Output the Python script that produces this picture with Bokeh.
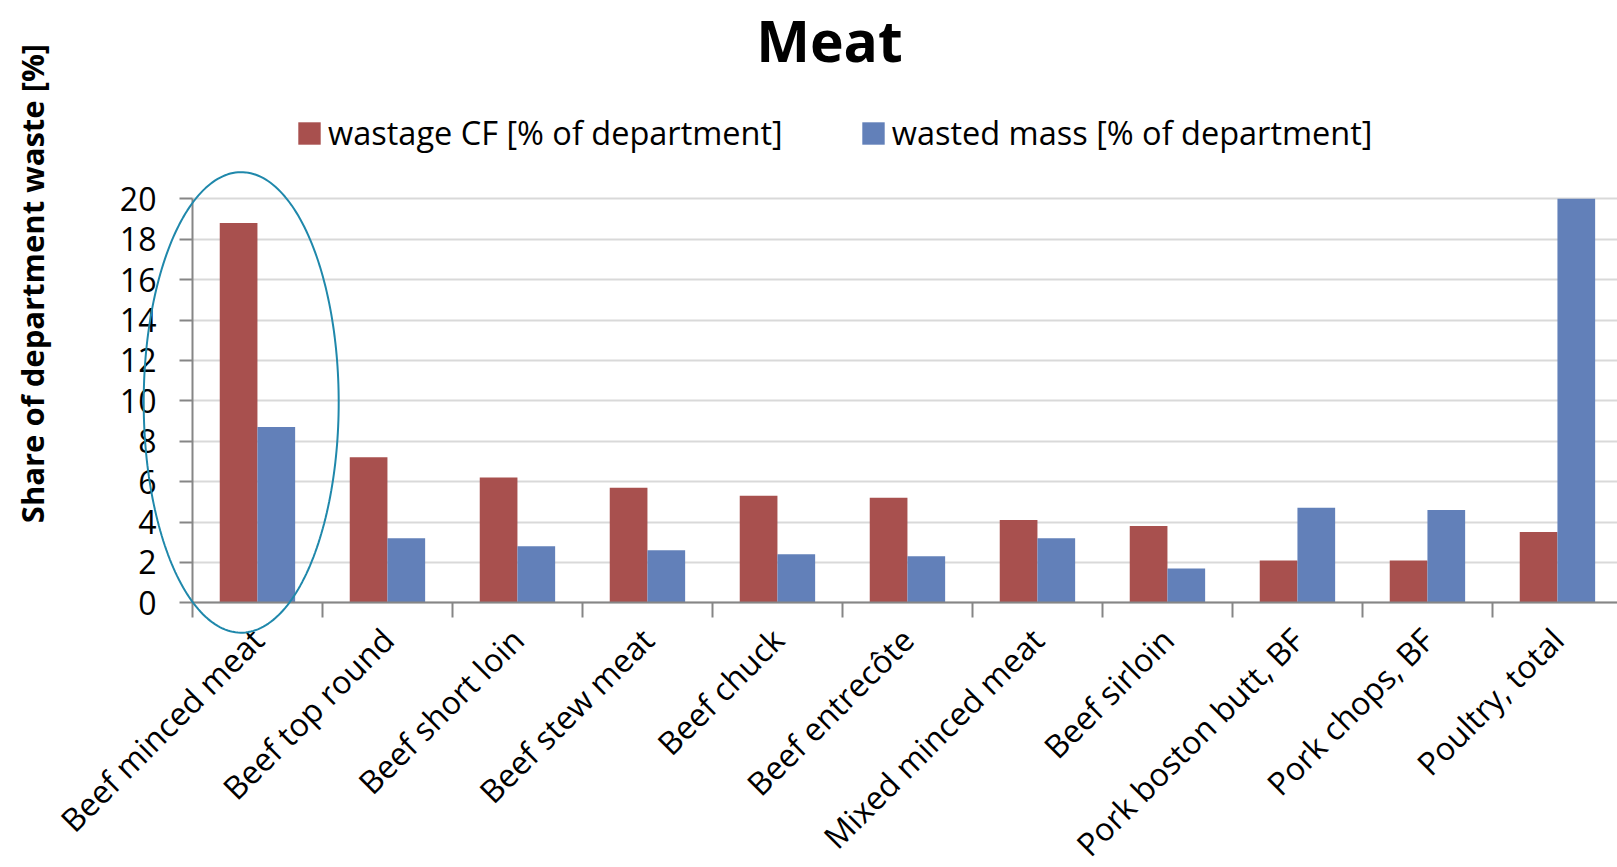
import numpy as np
from bokeh.plotting import figure
from bokeh.models import (Range1d, FixedTicker, ColumnDataSource, Legend, LegendItem,
                          PolyAnnotation, Label)
from bokeh.transform import dodge
from bokeh.embed import file_html
from bokeh.resources import INLINE

# Meat department: share of waste per product
categories = ["Beef minced meat", "Beef top round", "Beef short loin", "Beef stew meat",
              "Beef chuck", "Beef entrecôte", "Mixed minced meat", "Beef sirloin",
              "Pork boston butt, BF", "Pork chops, BF", "Poultry, total"]
wastage_cf = [18.8, 7.2, 6.2, 5.7, 5.3, 5.2, 4.1, 3.8, 2.1, 2.1, 3.5]
wasted_mass = [8.7, 3.2, 2.8, 2.6, 2.4, 2.3, 3.2, 1.7, 4.7, 4.6, 20.0]
y_ticks = [0, 2, 4, 6, 8, 10, 12, 14, 16, 18, 20]

W, H = 1617, 867
FONT = "Open Sans"
RED = "#A8504E"
BLUE = "#6280B9"
AXIS = "#868686"
GRID = "#D9D9D9"
TEXT = "#000000"
RING = "#1F88AB"

centers = [i + 0.5 for i in range(len(categories))]
boundaries = list(range(len(categories)))

source = ColumnDataSource(dict(pos=centers, cf=wastage_cf, mass=wasted_mass, name=categories))

# The plotting frame fills the whole canvas (130 px per category, 20.2 px per percent);
# both axes are pinned at zero so titles, legend and the highlight ring share one frame.
p = figure(width=W, height=H, output_backend="svg", toolbar_location=None,
           x_range=Range1d(-1.4765, 10.962), y_range=Range1d(-13.104, 29.817),
           min_border_left=0, min_border_right=0, min_border_top=0, min_border_bottom=0)
p.outline_line_color = None
p.background_fill_color = "white"
p.border_fill_color = "white"

r_cf = p.vbar(x=dodge("pos", -0.145, range=p.x_range), top="cf", width=0.29,
              source=source, fill_color=RED, line_color=None)
r_mass = p.vbar(x=dodge("pos", 0.145, range=p.x_range), top="mass", width=0.29,
                source=source, fill_color=BLUE, line_color=None)

# x axis: labels at category centres, tick marks between categories
xa = p.xaxis[0]
xa.fixed_location = 0
xa.bounds = (0, len(categories))
xa.ticker = FixedTicker(ticks=centers, minor_ticks=boundaries)
xa.major_label_overrides = {c: n for c, n in zip(centers, categories)}
xa.major_label_orientation = np.pi / 4
xa.major_tick_line_color = None
xa.major_tick_out = 0
xa.major_tick_in = 0
xa.minor_tick_line_color = AXIS
xa.minor_tick_line_width = 2
xa.minor_tick_out = 15
xa.minor_tick_in = 0
xa.axis_line_color = AXIS
xa.axis_line_width = 2
xa.major_label_text_font = FONT
xa.major_label_text_font_size = "32px"
xa.major_label_text_color = TEXT
xa.major_label_standoff = 16
p.xgrid.visible = False

ya = p.yaxis[0]
ya.fixed_location = 0
ya.bounds = (0, 20)
ya.ticker = FixedTicker(ticks=y_ticks)
ya.major_tick_out = 13
ya.major_tick_in = 0
ya.major_tick_line_color = AXIS
ya.major_tick_line_width = 2
ya.minor_tick_line_color = None
ya.axis_line_color = AXIS
ya.axis_line_width = 2
ya.major_label_text_font = FONT
ya.major_label_text_font_size = "32px"
ya.major_label_text_color = TEXT
ya.major_label_standoff = 23
p.ygrid.grid_line_color = GRID
p.ygrid.grid_line_width = 2
p.ygrid.cross_bounds = (0, len(categories))

# highlight ring around the first product
t = np.linspace(0, 2 * np.pi, 240)
p.add_layout(PolyAnnotation(xs=list(0.375 + 0.75 * np.cos(t)), ys=list(9.92 + 11.4 * np.sin(t)),
                            fill_color=None, line_color=RING, line_alpha=1.0, line_width=2))

# chart title and vertical axis title (screen px from the bottom-left corner)
p.add_layout(Label(x=829, y=H - 39, x_units="screen", y_units="screen", text="Meat",
                   text_align="center", text_baseline="alphabetic", text_font=FONT,
                   text_font_style="bold", text_font_size="57px", text_color=TEXT))
p.add_layout(Label(x=31, y=H - 283, x_units="screen", y_units="screen",
                   text="Share of department waste [%]", angle=np.pi / 2,
                   text_align="center", text_baseline="middle", text_font=FONT,
                   text_font_style="bold", text_font_size="31px", text_color=TEXT))

legend = Legend(items=[LegendItem(label="wastage CF [% of department]", renderers=[r_cf]),
                       LegendItem(label="wasted mass [% of department]", renderers=[r_mass])],
                orientation="horizontal", location=(295, H - 155), glyph_width=28,
                glyph_height=28, label_standoff=5, spacing=76, padding=0, margin=0,
                border_line_color=None, background_fill_alpha=0, label_text_font=FONT,
                label_text_font_size="32.5px", label_text_color=TEXT, label_height=22)
p.add_layout(legend, "center")

open("out.html", "w").write(file_html(p, INLINE))
